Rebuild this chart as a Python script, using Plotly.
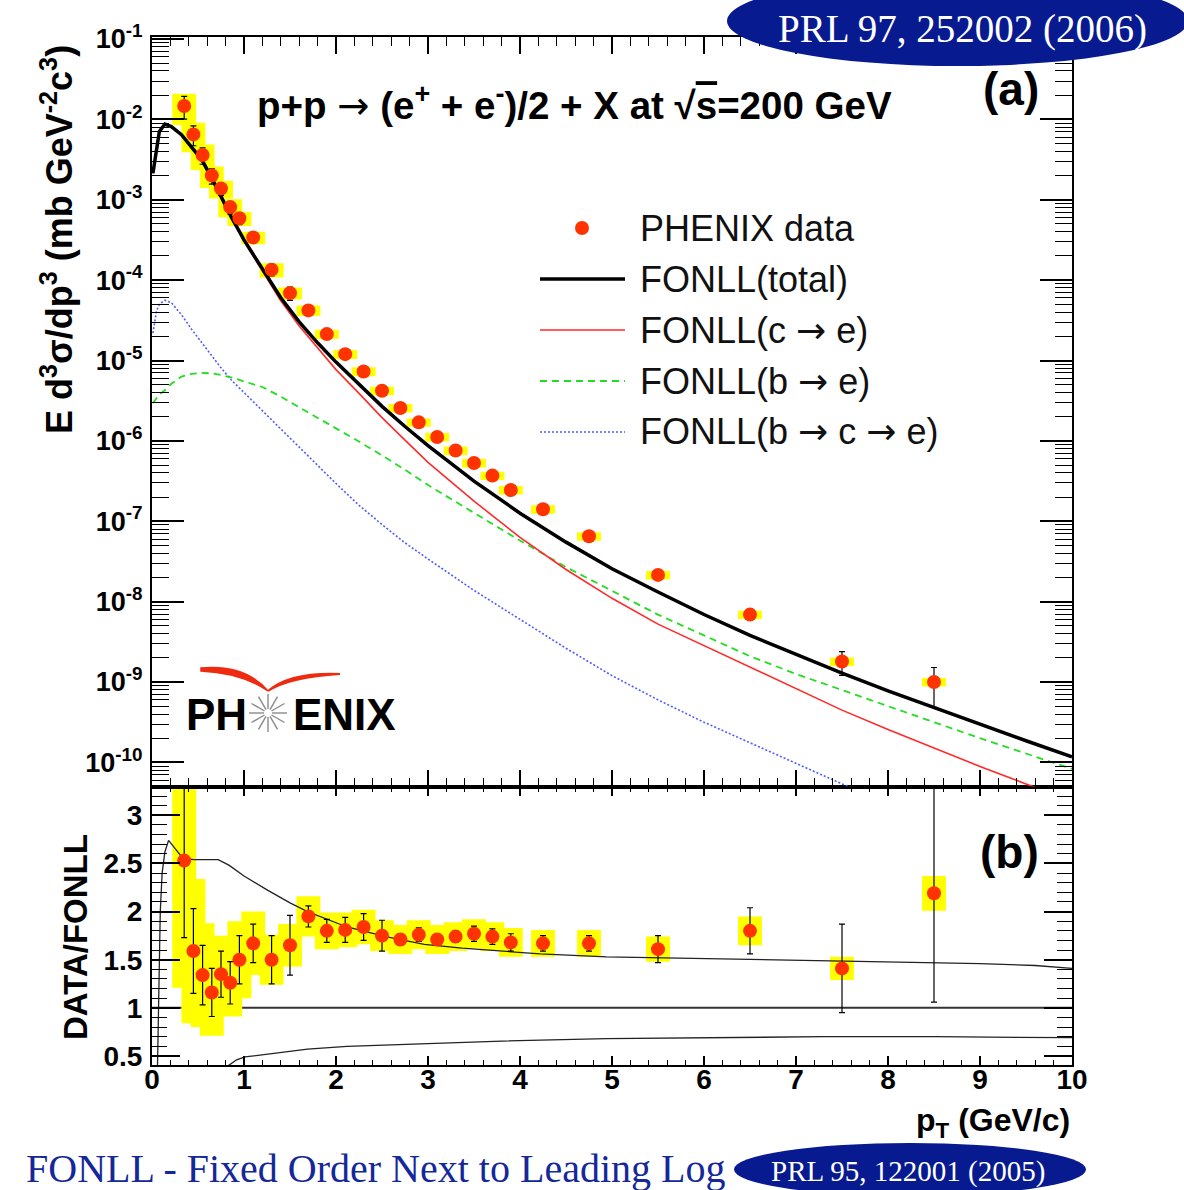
import math
import plotly.graph_objects as go

# ---------------- data ----------------
pt = [0.35, 0.45, 0.55, 0.65, 0.75, 0.85, 0.95, 1.1, 1.3, 1.5, 1.7, 1.9, 2.1, 2.3,
      2.5, 2.7, 2.9, 3.1, 3.3, 3.5, 3.7, 3.9, 4.25, 4.75, 5.5, 6.5, 7.5, 8.5]
yield_data = [1.47e-2, 6.5e-3, 3.6e-3, 2.0e-3, 1.38e-3, 8.1e-4, 5.9e-4, 3.4e-4, 1.35e-4,
              6.9e-5, 4.2e-5, 2.13e-5, 1.2e-5, 7.3e-6, 4.2e-6, 2.56e-6, 1.7e-6, 1.12e-6,
              7.6e-7, 5.3e-7, 3.7e-7, 2.45e-7, 1.41e-7, 6.5e-8, 2.15e-8, 6.9e-9, 1.8e-9, 1.0e-9]
sys_top = [0.42, 0.40, 0.35, 0.30, 0.25, 0.25, 0.20, 0.18, 0.20, 0.17, 0.15, 0.13, 0.13, 0.13,
           0.12, 0.12, 0.12, 0.12, 0.12, 0.12, 0.12, 0.12, 0.12, 0.12, 0.12, 0.12, 0.12, 0.12]
ratio = [2.53, 1.59, 1.34, 1.16, 1.35, 1.26, 1.50, 1.67, 1.50, 1.65, 1.95, 1.80, 1.81, 1.84,
         1.75, 1.71, 1.76, 1.71, 1.74, 1.77, 1.74, 1.68, 1.67, 1.67, 1.61, 1.80, 1.41, 2.19]
ratio_stat = [0.80, 0.44, 0.31, 0.25, 0.24, 0.22, 0.25, 0.20, 0.25, 0.31, 0.11, 0.12, 0.13, 0.14,
              0.16, 0.06, 0.07, 0.06, 0.06, 0.08, 0.08, 0.09, 0.08, 0.08, 0.14, 0.24, 0.46, 1.13]
ratio_sys = [1.32, 0.75, 0.54, 0.45, 0.40, 0.35, 0.40, 0.33, 0.26, 0.22, 0.21, 0.19, 0.18, 0.18,
             0.16, 0.15, 0.15, 0.15, 0.15, 0.15, 0.15, 0.15, 0.14, 0.14, 0.13, 0.15, 0.12, 0.18]

curve_pt = [0.01, 0.05, 0.08, 0.14, 0.21, 0.32, 0.43, 0.54, 0.65, 0.75, 0.86, 1.0, 1.2, 1.4,
            1.6, 1.8, 2.0, 2.25, 2.5, 2.75, 3.0, 3.5, 4.0, 4.5, 5.0, 5.5, 6.0, 6.5, 7.0, 7.5,
            8.0, 8.5, 9.0, 9.5, 10.0]
fonll_total = [2.14e-3, 4.57e-3, 7.08e-3, 8.71e-3, 8.13e-3, 6.46e-3, 4.57e-3, 3.16e-3, 1.86e-3,
               1.10e-3, 6.17e-4, 3.16e-4, 1.35e-4, 6.03e-5, 3.02e-5, 1.66e-5, 9.55e-6, 5.01e-6,
               2.69e-6, 1.51e-6, 8.71e-7, 3.16e-7, 1.26e-7, 5.50e-8, 2.57e-8, 1.32e-8, 6.92e-9,
               3.80e-9, 2.19e-9, 1.29e-9, 7.76e-10, 4.79e-10, 2.95e-10, 1.86e-10, 1.17e-10]
fonll_c = [2.11e-3, 4.52e-3, 7.02e-3, 8.65e-3, 8.07e-3, 6.40e-3, 4.51e-3, 3.11e-3, 1.82e-3,
           1.07e-3, 5.97e-4, 3.07e-4, 1.28e-4, 5.53e-5, 2.68e-5, 1.42e-5, 7.7e-6, 3.9e-6,
           1.95e-6, 1.02e-6, 5.4e-7, 1.78e-7, 6.3e-8, 2.51e-8, 1.10e-8, 5.25e-9, 2.82e-9,
           1.55e-9, 8.3e-10, 4.47e-10, 2.57e-10, 1.51e-10, 8.9e-11, 5.4e-11, 3.3e-11]
fonll_b = [2.95e-6, 3.39e-6, 3.80e-6, 4.27e-6, 5.13e-6, 6.31e-6, 6.84e-6, 7.0e-6, 6.92e-6,
           6.61e-6, 6.17e-6, 5.50e-6, 4.68e-6, 3.55e-6, 2.63e-6, 1.95e-6, 1.45e-6, 9.8e-7,
           6.6e-7, 4.37e-7, 2.82e-7, 1.26e-7, 5.75e-8, 2.69e-8, 1.35e-8, 6.9e-9, 3.8e-9,
           2.09e-9, 1.26e-9, 7.9e-10, 5.0e-10, 3.16e-10, 2.0e-10, 1.29e-10, 8.3e-11]
fonll_bc = [2.19e-5, 4.17e-5, 5.01e-5, 5.62e-5, 5.25e-5, 3.72e-5, 2.45e-5, 1.66e-5, 1.12e-5,
            8.1e-6, 5.75e-6, 3.98e-6, 2.40e-6, 1.41e-6, 8.3e-7, 4.9e-7, 2.95e-7, 1.58e-7,
            9.1e-8, 5.4e-8, 3.39e-8, 1.38e-8, 6.0e-9, 2.63e-9, 1.20e-9, 6.0e-10, 3.16e-10,
            1.74e-10, 9.8e-11, 5.4e-11, 3.16e-11]

band_up_pt = [0.06, 0.075, 0.09, 0.11, 0.14, 0.18, 0.25, 0.33, 0.45, 0.6, 0.72, 0.84, 1.0, 1.26,
              1.5, 1.69, 2.12, 2.54, 2.96, 3.37, 3.8, 4.22, 4.94, 5.5, 6.5, 7.5, 8.5, 9.0, 9.6, 10.0]
band_up = [0.40, 1.2, 2.0, 2.4, 2.62, 2.74, 2.65, 2.56, 2.54, 2.54, 2.54, 2.48, 2.37, 2.22,
           2.09, 2.0, 1.84, 1.74, 1.66, 1.62, 1.59, 1.56, 1.53, 1.52, 1.505, 1.49, 1.47, 1.46,
           1.44, 1.41]
band_lo_pt = [0.83, 0.92, 1.01, 1.26, 1.69, 2.12, 2.96, 3.8, 4.94, 6.12, 7.3, 8.5, 9.5, 10.0]
band_lo = [0.40, 0.46, 0.49, 0.52, 0.57, 0.60, 0.63, 0.655, 0.68, 0.69, 0.70, 0.70, 0.695, 0.69]

log_tickvals = [1e-10, 1e-9, 1e-8, 1e-7, 1e-6, 1e-5, 1e-4, 1e-3, 1e-2, 1e-1]
log_ticktext = ["10<sup>-10</sup>", "10<sup>-9</sup>", "10<sup>-8</sup>", "10<sup>-7</sup>",
                "10<sup>-6</sup>", "10<sup>-5</sup>", "10<sup>-4</sup>", "10<sup>-3</sup>",
                "10<sup>-2</sup>", "10<sup>-1</sup>"]

# ---------------- geometry / style ----------------
W, H = 1184, 1190
X0, X1 = 152, 1072
Y0, Y1 = 37, 1065
SPLIT_PX = 786.5
split = (Y1 - SPLIT_PX) / (Y1 - Y0)
BOX_HW = 0.13
FONT = "Liberation Sans"
SERIF = "Liberation Serif"
DATA_RED = "#ff3300"
YELLOW = "#ffff00"
ARROW = "<span style='font-family:DejaVu Sans;font-weight:normal'>→</span>"


def px(x):
    return (x - X0) / (X1 - X0)


def py(y):
    return (Y1 - y) / (Y1 - Y0)


def boxes(xs, lo, hi):
    bx, by = [], []
    for x, l, h in zip(xs, lo, hi):
        bx += [x - BOX_HW, x + BOX_HW, x + BOX_HW, x - BOX_HW, x - BOX_HW, None]
        by += [l, l, h, h, l, None]
    return bx, by


fig = go.Figure()

# ---- top panel (x2, y2) ----
lo = [v * (1 - s) for v, s in zip(yield_data, sys_top)]
hi = [v * (1 + s) for v, s in zip(yield_data, sys_top)]
bx, by = boxes(pt, lo, hi)
fig.add_trace(go.Scatter(x=bx, y=by, xaxis="x2", yaxis="y2", mode="lines", fill="toself",
                         fillcolor=YELLOW, line=dict(width=0, color=YELLOW),
                         hoverinfo="skip", showlegend=False))
fig.add_trace(go.Scatter(x=curve_pt[:len(fonll_bc)], y=fonll_bc, xaxis="x2", yaxis="y2",
                         mode="lines", line=dict(color="#4d5cff", width=1.6, dash="2px,2px"),
                         name="FONLL(b → c → e)", showlegend=False))
fig.add_trace(go.Scatter(x=curve_pt, y=fonll_b, xaxis="x2", yaxis="y2", mode="lines",
                         line=dict(color="#22dd22", width=1.8, dash="7px,5px"),
                         name="FONLL(b → e)", showlegend=False))
fig.add_trace(go.Scatter(x=curve_pt, y=fonll_c, xaxis="x2", yaxis="y2", mode="lines",
                         line=dict(color="#ff2a2a", width=1.6), name="FONLL(c → e)",
                         showlegend=False))
fig.add_trace(go.Scatter(x=curve_pt, y=fonll_total, xaxis="x2", yaxis="y2", mode="lines",
                         line=dict(color="black", width=3.5), name="FONLL(total)",
                         showlegend=False))
top_err = [v * e / r for v, e, r in zip(yield_data, ratio_stat, ratio)]
fig.add_trace(go.Scatter(x=pt, y=yield_data, xaxis="x2", yaxis="y2", mode="markers",
                         marker=dict(color=DATA_RED, size=14, line=dict(width=0)),
                         error_y=dict(type="data", array=top_err, color="black",
                                      thickness=1.2, width=3),
                         name="PHENIX data", showlegend=False))

# ---- bottom panel (x, y) ----
rlo = [r - s for r, s in zip(ratio, ratio_sys)]
rhi = [r + s for r, s in zip(ratio, ratio_sys)]
bx, by = boxes(pt, rlo, rhi)
fig.add_trace(go.Scatter(x=bx, y=by, xaxis="x", yaxis="y", mode="lines", fill="toself",
                         fillcolor=YELLOW, line=dict(width=0, color=YELLOW),
                         hoverinfo="skip", showlegend=False))
fig.add_trace(go.Scatter(x=band_up_pt, y=band_up, xaxis="x", yaxis="y", mode="lines",
                         line=dict(color="#222222", width=1.3), showlegend=False))
fig.add_trace(go.Scatter(x=band_lo_pt, y=band_lo, xaxis="x", yaxis="y", mode="lines",
                         line=dict(color="#222222", width=1.3), showlegend=False))
fig.add_trace(go.Scatter(x=pt, y=ratio, xaxis="x", yaxis="y", mode="markers",
                         marker=dict(color=DATA_RED, size=14, line=dict(width=0)),
                         error_y=dict(type="data", array=ratio_stat, color="black",
                                      thickness=1.2, width=3),
                         showlegend=False))

axis_common = dict(showline=True, linewidth=2, linecolor="black", mirror="ticks",
                   ticks="inside", tickcolor="black", tickwidth=1.5, showgrid=False,
                   zeroline=False)

fig.update_layout(
    width=W, height=H, autosize=False,
    margin=dict(l=X0, r=W - X1, t=Y0, b=H - Y1, pad=0),
    paper_bgcolor="white", plot_bgcolor="white",
    font=dict(family=FONT, color="black"),
    xaxis=dict(domain=[0, 1], anchor="y", range=[0, 10], dtick=1, tick0=0, ticklen=9,
               minor=dict(dtick=0.2, ticks="inside", ticklen=5, tickwidth=1, tickcolor="black"),
               tickfont=dict(size=28, family=FONT, weight="bold"), ticklabelstandoff=-12,
               **axis_common),
    xaxis2=dict(domain=[0, 1], anchor="y2", matches="x", range=[0, 10], dtick=1, tick0=0,
                ticklen=17, showticklabels=False,
                minor=dict(dtick=0.2, ticks="inside", ticklen=9, tickwidth=1, tickcolor="black"),
                **axis_common),
    yaxis=dict(domain=[0, split], anchor="x", range=[0.406, 3.30], dtick=0.5, tick0=0.5,
               ticklen=28,
               minor=dict(dtick=0.1, ticks="inside", ticklen=15, tickwidth=1, tickcolor="black"),
               tickfont=dict(size=28, family=FONT, weight="bold"), ticklabelstandoff=2,
               **axis_common),
    yaxis2=dict(domain=[split, 1], anchor="x2", type="log", range=[-10.30, -0.975],
                tickmode="array", tickvals=log_tickvals, ticktext=log_ticktext, ticklen=32,
                minor=dict(dtick="D1", ticks="inside", ticklen=17, tickwidth=1, tickcolor="black"),
                tickfont=dict(size=27, family=FONT, weight="bold"), ticklabelstandoff=2,
                **axis_common),
)

ann = []
shapes = []

# reference line at ratio 1
shapes.append(dict(type="line", xref="x domain", yref="y", x0=0, x1=1, y0=1, y1=1,
                   line=dict(color="#333333", width=2), layer="below"))

# title / labels
ann.append(dict(xref="paper", yref="paper", x=px(255), y=py(104), xanchor="left",
                yanchor="middle", showarrow=False,
                text="<b>p+p</b> " + ARROW + " <b>(e<sup>+</sup> + e<sup>-</sup>)/2 + X at √<span style='text-decoration:overline'>s</span>=200 GeV</b>",
                font=dict(size=38.5, family=FONT)))
ann.append(dict(xref="paper", yref="paper", x=px(1041), y=py(89), xanchor="right",
                yanchor="middle", showarrow=False, text="<b>(a)</b>",
                font=dict(size=46, family=FONT)))
ann.append(dict(xref="paper", yref="paper", x=px(1041), y=py(852), xanchor="right",
                yanchor="middle", showarrow=False, text="<b>(b)</b>",
                font=dict(size=46, family=FONT)))
ann.append(dict(xref="paper", yref="paper", x=px(57), y=py(240), xanchor="center",
                yanchor="middle", showarrow=False, textangle=-90,
                text="<b>E d<sup>3</sup>σ/dp<sup>3</sup> (mb GeV<sup>-2</sup>c<sup>3</sup>)</b>",
                font=dict(size=36, family=FONT)))
ann.append(dict(xref="paper", yref="paper", x=px(75), y=py(937), xanchor="center",
                yanchor="middle", showarrow=False, textangle=-90, text="<b>DATA/FONLL</b>",
                font=dict(size=33, family=FONT)))
ann.append(dict(xref="paper", yref="paper", x=px(1072), y=py(1122), xanchor="right",
                yanchor="middle", showarrow=False, text="<b>p<sub>T</sub> (GeV/c)</b>",
                font=dict(size=32, family=FONT)))

# legend
leg_y = [228, 279, 330, 381, 432]
leg_txt = ["PHENIX data", "FONLL(total)", "FONLL(c " + ARROW + " e)", "FONLL(b " + ARROW + " e)",
           "FONLL(b " + ARROW + " c " + ARROW + " e)"]
for yy, tt in zip(leg_y, leg_txt):
    ann.append(dict(xref="paper", yref="paper", x=px(638), y=py(yy), xanchor="left",
                    yanchor="middle", showarrow=False, text=tt,
                    font=dict(size=36, family=FONT, color="#111111")))
shapes.append(dict(type="circle", xref="paper", yref="paper", x0=px(575), x1=px(589),
                   y0=py(235), y1=py(221), fillcolor=DATA_RED, line=dict(width=0)))
leg_styles = [("black", 3.5, "solid"), ("#ff2a2a", 1.6, "solid"),
              ("#22dd22", 1.8, "7px,5px"), ("#4d5cff", 1.6, "2px,2px")]
for yy, (c, w, d) in zip(leg_y[1:], leg_styles):
    shapes.append(dict(type="line", xref="paper", yref="paper", x0=px(540), x1=px(625),
                       y0=py(yy), y1=py(yy), line=dict(color=c, width=w, dash=d)))

# PHENIX logo
ann.append(dict(xref="paper", yref="paper", x=px(184), y=py(714), xanchor="left",
                yanchor="middle", showarrow=False, text="<b>PH</b>",
                font=dict(size=44, family=FONT)))
ann.append(dict(xref="paper", yref="paper", x=px(291), y=py(714), xanchor="left",
                yanchor="middle", showarrow=False, text="<b>ENIX</b>",
                font=dict(size=44, family=FONT)))
cx, cy = 268, 713
for k in range(12):
    a = 2 * math.pi * k / 12
    shapes.append(dict(type="line", xref="paper", yref="paper",
                       x0=px(cx + 4 * math.cos(a)), y0=py(cy + 4 * math.sin(a)),
                       x1=px(cx + 19 * math.cos(a)), y1=py(cy + 19 * math.sin(a)),
                       line=dict(color="#8a8a8a", width=1.4)))
shapes.append(dict(type="path", xref="paper", yref="paper",
                   path=f"M {px(201)},{py(668)} Q {px(245)},{py(664)} {px(268)},{py(691)} "
                        f"Q {px(242)},{py(673)} {px(201)},{py(671)} Z",
                   fillcolor="#ee2a10", line=dict(color="#ee2a10", width=1.5)))
shapes.append(dict(type="path", xref="paper", yref="paper",
                   path=f"M {px(268)},{py(691)} Q {px(290)},{py(672)} {px(340)},{py(674)} "
                        f"Q {px(290)},{py(677)} {px(268)},{py(691)} Z",
                   fillcolor="#ee2a10", line=dict(color="#ee2a10", width=2)))

# publication badges
BLUE = "#071a90"
shapes.append(dict(type="circle", xref="paper", yref="paper", x0=px(727), x1=px(1188),
                   y0=py(66), y1=py(-24), fillcolor=BLUE, line=dict(width=0), layer="above"))
ann.append(dict(xref="paper", yref="paper", x=px(962), y=py(29), xanchor="center",
                yanchor="middle", showarrow=False, text="PRL 97, 252002 (2006)",
                font=dict(size=39, family=SERIF, color="white")))
shapes.append(dict(type="circle", xref="paper", yref="paper", x0=px(734), x1=px(1086),
                   y0=py(1196), y1=py(1143), fillcolor=BLUE, line=dict(width=0), layer="above"))
ann.append(dict(xref="paper", yref="paper", x=px(908), y=py(1171), xanchor="center",
                yanchor="middle", showarrow=False, text="PRL 95, 122001 (2005)",
                font=dict(size=29, family=SERIF, color="white")))
ann.append(dict(xref="paper", yref="paper", x=px(24), y=py(1168), xanchor="left",
                yanchor="middle", showarrow=False, text="FONLL - Fixed Order Next to Leading Log",
                font=dict(size=40, family=SERIF, color="#14289a")))

fig.update_layout(annotations=ann, shapes=shapes)
fig.write_html("out.html", config={"displayModeBar": False},
               post_script="document.body.style.margin='0';document.body.style.padding='0';"
                           "document.body.style.overflow='hidden';")
